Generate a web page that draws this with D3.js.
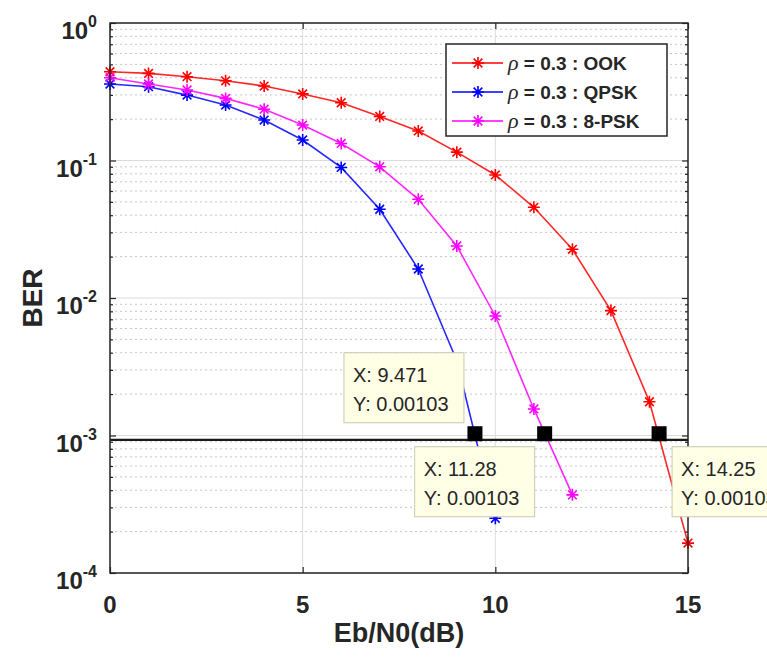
<!DOCTYPE html>
<html><head><meta charset="utf-8">
<script src="https://cdn.jsdelivr.net/npm/d3@7"></script>
<style>body{margin:0;background:#fff}svg{display:block}</style>
</head><body>
<svg id="chart" width="767" height="666"></svg>
<script>
// ---- data ----
const snrOOK  = [0,1,2,3,4,5,6,7,8,9,10,11,12,13,14,15];
const berOOK  = [0.442,0.43,0.407,0.38,0.348,0.305,0.263,0.209,0.164,0.115,0.0785,0.0457,0.0226,0.0081,0.00176,0.000165];
const snrQPSK = [0,1,2,3,4,5,6,7,8,9,10];
const berQPSK = [0.36,0.344,0.299,0.253,0.197,0.141,0.089,0.0442,0.01625,0.0035,0.00025];
const snr8PSK = [0,1,2,3,4,5,6,7,8,9,10,11,12];
const ber8PSK = [0.40,0.36,0.326,0.283,0.236,0.181,0.133,0.090,0.0522,0.0239,0.0074,0.00156,0.00037];
const seriesNames = ["OOK","QPSK","8-PSK"];
const rhoValue = "0.3";
const thresholdBER = 0.00093;
const tipX = [9.471, 11.28, 14.25];
const tipY = [0.00103, 0.00103, 0.00103];
const tipXLabels = ["9.471","11.28","14.25"];
const tipYLabels = ["0.00103","0.00103","0.00103"];
const xTicks = [0,5,10,15];
const yDecades = [0,-1,-2,-3,-4];
const xLabel = "Eb/N0(dB)";
const yLabel = "BER";

// ---- drawing ----
const svg = d3.select("#chart");
const L = 110, R = 688, T = 23, B = 573;
const x = d3.scaleLinear().domain([0,15]).range([L,R]);
const y = d3.scaleLog().domain([1e-4,1]).range([B,T]);
const colors = ["#ff0000","#0000ff","#ff00ff"];
const series = [
  {xs: snrOOK, ys: berOOK},
  {xs: snrQPSK, ys: berQPSK},
  {xs: snr8PSK, ys: ber8PSK}
];

svg.append("rect").attr("x",L).attr("y",T).attr("width",R-L).attr("height",B-T).attr("fill","#fff");

const grid = svg.append("g");
// minor y grid
const minorVals = [];
for (let k=-4;k<0;k++) for (let m=2;m<=9;m++) minorVals.push(m*Math.pow(10,k));
grid.selectAll("line.minor").data(minorVals).join("line")
  .attr("x1",L).attr("x2",R).attr("y1",d=>y(d)).attr("y2",d=>y(d))
  .attr("stroke","#c8c8c8").attr("stroke-width",1).attr("stroke-dasharray","2,3");
// major y grid
grid.selectAll("line.majy").data(yDecades.map(e=>Math.pow(10,e))).join("line")
  .attr("x1",L).attr("x2",R).attr("y1",d=>y(d)).attr("y2",d=>y(d))
  .attr("stroke","#dcdcdc").attr("stroke-width",1);
// major x grid
grid.selectAll("line.majx").data(xTicks).join("line")
  .attr("x1",d=>x(d)).attr("x2",d=>x(d)).attr("y1",T).attr("y2",B)
  .attr("stroke","#dcdcdc").attr("stroke-width",1);

// axes box and ticks
const axG = svg.append("g");
const xAxB = d3.axisBottom(x).tickValues(xTicks).tickSize(-6).tickFormat("");
const xAxT = d3.axisTop(x).tickValues(xTicks).tickSize(-6).tickFormat("");
const yAxL = d3.axisLeft(y).tickValues(yDecades.map(e=>Math.pow(10,e))).tickSize(-6).tickFormat("");
const yAxR = d3.axisRight(y).tickValues(yDecades.map(e=>Math.pow(10,e))).tickSize(-6).tickFormat("");
const yMinL = d3.axisLeft(y).tickValues(minorVals).tickSize(-3).tickFormat("");
const yMinR = d3.axisRight(y).tickValues(minorVals).tickSize(-3).tickFormat("");
function styleAx(g){ g.selectAll("path").remove(); g.selectAll("line").attr("stroke","#262626").attr("stroke-width",1.2); }
axG.append("g").attr("transform",`translate(0,${B})`).call(xAxB).call(styleAx);
axG.append("g").attr("transform",`translate(0,${T})`).call(xAxT).call(styleAx);
axG.append("g").attr("transform",`translate(${L},0)`).call(yAxL).call(styleAx);
axG.append("g").attr("transform",`translate(${R},0)`).call(yAxR).call(styleAx);
axG.append("g").attr("transform",`translate(${L},0)`).call(yMinL).call(styleAx);
axG.append("g").attr("transform",`translate(${R},0)`).call(yMinR).call(styleAx);

// star marker path
function star(r){
  const d = r*0.72;
  return `M${-r},0L${r},0M0,${-r}L0,${r}M${-d},${-d}L${d},${d}M${-d},${d}L${d},${-d}`;
}

// curves
const line = d3.line().x(d=>x(d[0])).y(d=>y(d[1]));
series.forEach((s,i)=>{
  const pts = s.xs.map((v,j)=>[v,s.ys[j]]);
  svg.append("path").datum(pts).attr("d",line).attr("fill","none")
    .attr("stroke",colors[i]).attr("stroke-width",1.6).attr("stroke-opacity",0.85);
  svg.append("g").selectAll("path").data(pts).join("path")
    .attr("transform",d=>`translate(${x(d[0])},${y(d[1])})`)
    .attr("d",star(6)).attr("stroke",colors[i]).attr("stroke-width",1.6).attr("fill","none");
});

// threshold line
svg.append("line").attr("x1",x(0)).attr("x2",x(15)).attr("y1",y(thresholdBER)).attr("y2",y(thresholdBER))
  .attr("stroke","#1a1a1a").attr("stroke-width",2.2);

// outer box
svg.append("rect").attr("x",L).attr("y",T).attr("width",R-L).attr("height",B-T)
  .attr("fill","none").attr("stroke","#262626").attr("stroke-width",1.5);

// tick labels
svg.append("g").selectAll("text").data(xTicks).join("text")
  .attr("x",d=>x(d)).attr("y",B+40).attr("text-anchor","middle")
  .attr("font-family","Liberation Sans, Arial, sans-serif").attr("font-weight","bold")
  .attr("font-size",24).attr("fill","#262626").text(d=>d);
const yt = svg.append("g").selectAll("text").data(yDecades).join("text")
  .attr("x",97).attr("y",d=>y(Math.pow(10,d))+16).attr("text-anchor","end")
  .attr("font-family","Liberation Sans, Arial, sans-serif").attr("font-weight","bold")
  .attr("font-size",24).attr("fill","#262626");
yt.append("tspan").text("10");
yt.append("tspan").attr("dy",-12).attr("font-size",16).text(d=>String(d));

// axis labels
svg.append("text").attr("x",(L+R)/2).attr("y",642).attr("text-anchor","middle")
  .attr("font-family","Liberation Sans, Arial, sans-serif").attr("font-weight","bold")
  .attr("font-size",27).attr("fill","#262626").text(xLabel);
svg.append("text").attr("transform",`translate(42,${(T+B)/2}) rotate(-90)`).attr("text-anchor","middle")
  .attr("font-family","Liberation Sans, Arial, sans-serif").attr("font-weight","bold")
  .attr("font-size",28).attr("fill","#262626").text(yLabel);

// legend
const lg = svg.append("g");
lg.append("rect").attr("x",446).attr("y",44).attr("width",221).attr("height",92)
  .attr("fill","#fff").attr("stroke","#262626").attr("stroke-width",1.5);
seriesNames.forEach((n,i)=>{
  const ry = 63 + i*29;
  lg.append("line").attr("x1",452).attr("x2",503).attr("y1",ry).attr("y2",ry)
    .attr("stroke",colors[i]).attr("stroke-width",1.6);
  lg.append("path").attr("transform",`translate(478,${ry})`).attr("d",star(6))
    .attr("stroke",colors[i]).attr("stroke-width",1.6).attr("fill","none");
  const t = lg.append("text").attr("x",508).attr("y",ry+7).attr("fill","#262626").attr("font-size",19);
  t.append("tspan").attr("font-family","Liberation Serif, Times New Roman, serif").attr("font-style","italic").attr("font-size",22).text("ρ");
  t.append("tspan").attr("font-family","Liberation Sans, Arial, sans-serif").attr("font-weight","bold").text(` = ${rhoValue} : ${n}`);
});

// data tips
const tipOffsets = [[-131,-81],[-130,13],[13,13]];
tipX.forEach((tx,i)=>{
  const cx = x(tx), cy = y(tipY[i]);
  const bx = cx + tipOffsets[i][0], by = cy + tipOffsets[i][1];
  svg.append("rect").attr("x",bx).attr("y",by).attr("width",120).attr("height",70)
    .attr("fill","#ffffe6").attr("stroke","#c8c8b4").attr("stroke-width",1);
  const tg = svg.append("g").attr("font-family","Liberation Sans, Arial, sans-serif")
    .attr("font-size",20).attr("fill","#262626");
  tg.append("text").attr("x",bx+9).attr("y",by+29).text(`X: ${tipXLabels[i]}`);
  tg.append("text").attr("x",bx+9).attr("y",by+58).text(`Y: ${tipYLabels[i]}`);
  svg.append("rect").attr("x",cx-7.5).attr("y",cy-7.5).attr("width",15).attr("height",15).attr("fill","#000");
});
</script>
</body></html>
